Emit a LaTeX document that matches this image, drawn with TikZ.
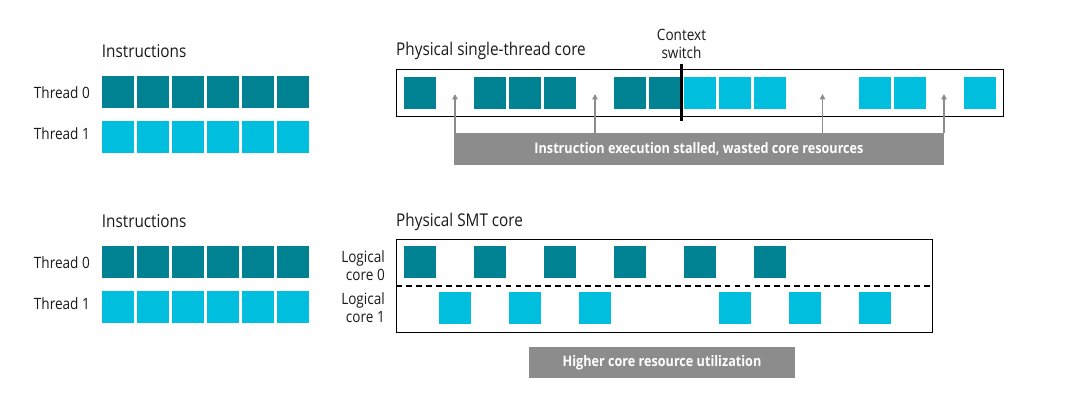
\documentclass[tikz,border=0pt]{standalone}
\usepackage{fontspec}
\setmainfont{Open Sans}[FakeStretch=0.87]
\usetikzlibrary{arrows.meta,positioning}

\definecolor{instdark}{RGB}{0,130,146}
\definecolor{instlight}{RGB}{0,190,222}
\definecolor{bannergray}{RGB}{140,140,140}
\definecolor{labeltext}{RGB}{25,25,25}

\begin{document}
\begin{tikzpicture}[x=0.03cm,y=-0.03cm,>={Triangle[length=4.5pt,width=4.5pt]},
  sq/.style={minimum size=0.96cm,inner sep=0pt,anchor=north west},
  dk/.style={sq,fill=instdark},
  lt/.style={sq,fill=instlight},
  lbl/.style={font=\fontsize{13.3}{15}\selectfont,text=labeltext,inner sep=0pt},
  title/.style={lbl,font=\fontsize{15}{17}\selectfont,anchor=west},
  corebox/.style={draw=black,line width=1.1pt,inner sep=0pt,anchor=north west},
  banner/.style={fill=bannergray,text=white,inner sep=0pt,
    font=\fontsize{12.4}{14}\selectfont\bfseries},
  stallarr/.style={->,draw=bannergray,line width=1.3pt}]
  \useasboundingbox (0,0) rectangle (1080,411);

  % instruction streams, top and bottom
  \foreach \row/\py in {top/76,bot/246} {
    \foreach \k in {0,...,5} {
      \node[dk] (\row0-\k) at ({101.7+35*\k},\py) {};
      \node[lt] (\row1-\k) at ({101.7+35*\k},\py+45) {};
    }
    \node[lbl,left=0.35cm of \row0-0] {Thread 0};
    \node[lbl,left=0.35cm of \row1-0,yshift=3pt] {Thread 1};
    \node[title] (instr-\row) at (101.7,\py-25) {Instructions};
  }

  % single-thread core
  \node[title] (st-title) at (396,51) {Physical single-thread core};
  \node[corebox,minimum width=18.21cm,minimum height=1.41cm] (stcore) at (396,69) {};
  \foreach \px/\c [count=\i] in {404/dk,474/dk,509/dk,544/dk,614/dk,649/dk,
      684/lt,719/lt,754/lt,859/lt,894/lt,964/lt}
    \node[\c] (core-\i) at (\px,77) {};
  \node[lbl,align=center] (cs-label) at (681.5,44) {Context\\switch};
  \coordinate (cs-top) at (681.5,64);
  \coordinate (cs-bot) at (681.5,120.5);
  \draw[line width=2.4pt] (cs-top) -- (cs-bot);

  \node[banner,minimum width=14.7cm,minimum height=0.96cm] (stall) at (699,149)
    {Instruction execution stalled, wasted core resources};
  \foreach \gx [count=\g] in {455,595,822.5,944} {
    \coordinate (gap\g) at (\gx,94);
    \draw[stallarr] (stall.north -| gap\g) -- (gap\g);
  }

  % SMT core
  \node[title] (smt-title) at (396,222) {Physical SMT core};
  \node[corebox,minimum width=16.08cm,minimum height=2.78cm] (smt) at (396,239) {};
  \draw[line width=1.3pt,dash pattern=on 5pt off 3.5pt] (smt.west) -- (smt.east);
  \foreach \px [count=\i] in {404,474,544,614,684,754}
    \node[dk] (lc0-\i) at (\px,246) {};
  \foreach \px [count=\i] in {439,509,579,719,789,859}
    \node[lt] (lc1-\i) at (\px,292) {};
  \node[lbl,align=right,anchor=east] (lc0-label) at (385,265.5) {Logical\\core 0};
  \node[lbl,align=right,anchor=east] (lc1-label) at (385,307.5) {Logical\\core 1};

  \node[banner,minimum width=7.98cm,minimum height=0.945cm] (util) at (662,362.5)
    {Higher core resource utilization};
\end{tikzpicture}
\end{document}
